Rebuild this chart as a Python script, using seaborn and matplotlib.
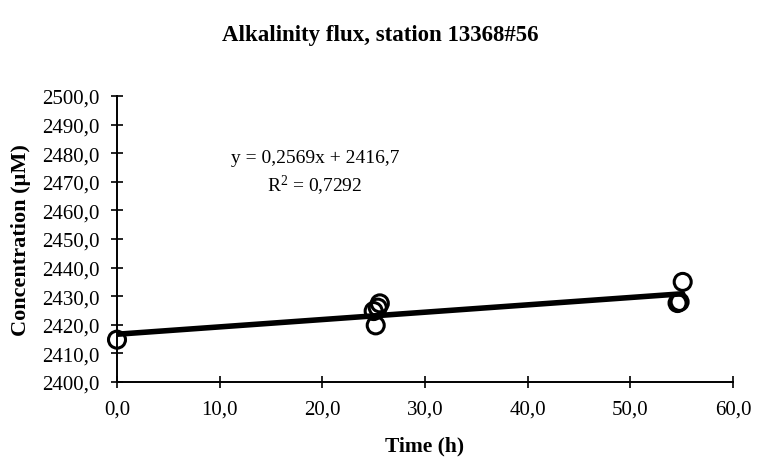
import matplotlib
matplotlib.use("Agg")
import matplotlib.pyplot as plt
import seaborn as sns
import numpy as np
import pandas as pd

# Data
time_h = [0.0, 25.0, 25.2, 25.4, 25.6, 54.6, 54.8, 55.1]
conc_uM = [2414.8, 2424.8, 2419.8, 2426.0, 2427.5, 2427.6, 2428.0, 2435.0]
slope = 0.2569
intercept = 2416.7
r_squared = 0.7292
x_ticks = [0, 10, 20, 30, 40, 50, 60]
y_ticks = [2400, 2410, 2420, 2430, 2440, 2450, 2460, 2470, 2480, 2490, 2500]

sns.set_theme(style="white")
plt.rcParams['font.family'] = ['Liberation Serif', 'DejaVu Serif']
plt.rcParams['mathtext.fontset'] = 'custom'
plt.rcParams['mathtext.rm'] = 'Liberation Serif'
plt.rcParams['mathtext.it'] = 'Liberation Serif:italic'
plt.rcParams['text.color'] = 'black'
plt.rcParams['axes.labelcolor'] = 'black'

df = pd.DataFrame({"Time": time_h, "Conc": conc_uM})
fit_x = [min(time_h), max(time_h)]
fit_df = pd.DataFrame({"Time": fit_x, "Conc": [intercept + slope * v for v in fit_x]})

fig = plt.figure(figsize=(7.57, 4.60), dpi=100)
ax = fig.add_axes([117/757, 1 - 383/460, (733 - 117)/757, (383 - 97)/460])

sns.lineplot(data=fit_df, x="Time", y="Conc", ax=ax, color="black", linewidth=4, zorder=2)
sns.scatterplot(data=df, x="Time", y="Conc", ax=ax, marker="o", s=150,
                facecolor="none", edgecolor="black", linewidth=2.2, zorder=3, clip_on=False)

ax.set_xlim(0, 60)
ax.set_ylim(2400, 2500)
ax.set_xticks(x_ticks)
ax.set_yticks(y_ticks)
ax.set_xticklabels([f"{v:.1f}".replace(".", ",") for v in x_ticks], fontsize=15)
ax.set_yticklabels([f"{v:.1f}".replace(".", ",") for v in y_ticks], fontsize=15)
ax.tick_params(axis="both", direction="inout", length=9, width=1.2, colors="black",
               bottom=True, left=True, pad=8)

for s in ["top", "right"]:
    ax.spines[s].set_visible(False)
for s in ["left", "bottom"]:
    ax.spines[s].set_color("black")
    ax.spines[s].set_linewidth(1.4)

ax.set_xlabel("Time (h)", fontsize=15.5, fontweight="bold", labelpad=12)
ax.set_ylabel("Concentration (µM)", fontsize=16, fontweight="bold", labelpad=8)

ax.text(19.3, 2478.5, f"y = {slope:.4f}x + {intercept:.1f}".replace(".", ","),
        fontsize=14, ha="center", va="center")
ax.text(19.3, 2469.0, "R$^{2}$" + f" = {r_squared:.4f}".replace(".", ","),
        fontsize=14, ha="center", va="center")

fig.suptitle("Alkalinity flux, station 13368#56", fontsize=16.5, fontweight="bold",
             x=0.502, y=1 - 35/460, va="center")

fig.savefig("out.png", dpi=100, facecolor="white")
